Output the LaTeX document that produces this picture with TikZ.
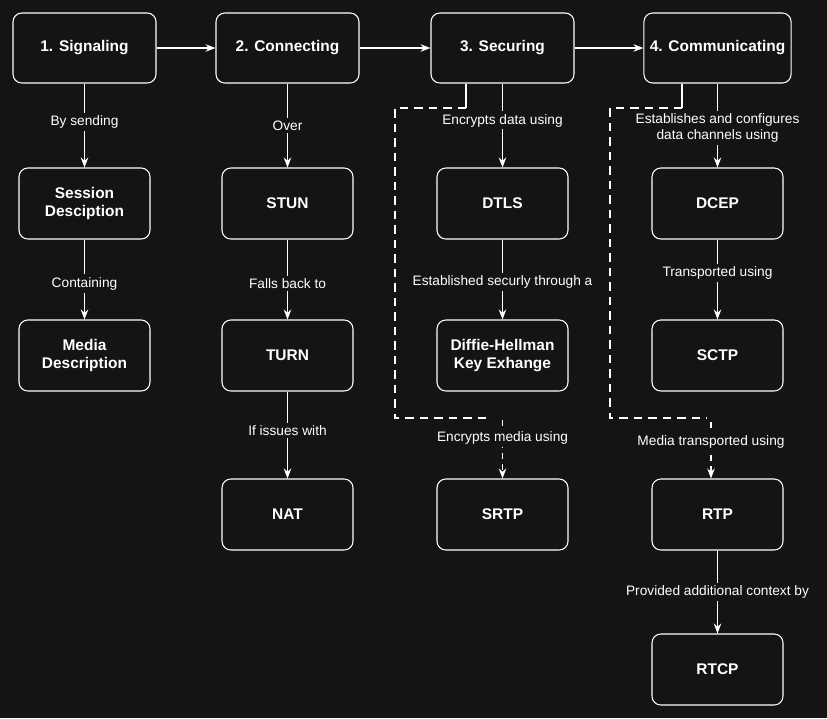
\documentclass[tikz,border=0pt]{standalone}
\usepackage{fontspec}
\setmainfont{Liberation Sans}
\usetikzlibrary{arrows.meta,positioning,calc}
\definecolor{bgdark}{HTML}{141414}
\begin{document}
\begin{tikzpicture}[x=0.02cm, y=-0.02cm,
    every node/.style={font=\fontsize{7.8}{9.2}\selectfont, text=white},
    phase/.style={draw=white, rounded corners=5pt, fill=bgdark, line width=0.6pt,
        minimum height=1.4cm, minimum width=2.86cm, align=center,
        font=\fontsize{8.8}{10.5}\selectfont\bfseries},
    item/.style={phase, minimum height=1.42cm, minimum width=2.62cm},
    lbl/.style={fill=bgdark, inner sep=1.5pt, align=center},
    arr/.style={-{Stealth[length=2mm]}, draw=white, line width=0.6pt},
    grp/.style={draw=white, dash pattern=on 1.7mm off 1.2mm, line width=0.6pt}]
    \fill[bgdark] (0,0) rectangle (827,718);
    \useasboundingbox (0,0) rectangle (827,718);
    % main phases
    \node[phase] (sig) at (84.5,48) {1. Signaling};
    \node[phase] (con) at (287.5,48) {2. Connecting};
    \node[phase] (sec) at (502.5,48) {3. Securing};
    \node[phase] (com) at (717.5,48) {4. Communicating};
    % signaling column
    \node[item] (sdp) at (84.5,203.5) {Session\\Desciption};
    \node[item] (media) at (84.5,355.5) {Media\\Description};
    % connecting column
    \node[item] (stun) at (287.5,203.5) {STUN};
    \node[item] (turn) at (287.5,355.5) {TURN};
    \node[item] (nat) at (287.5,514.5) {NAT};
    % securing column
    \node[item] (dtls) at (502.5,203.5) {DTLS};
    \node[item] (dh) at (502.5,355.5) {Diffie-Hellman\\Key Exhange};
    \node[item] (srtp) at (502.5,514.5) {SRTP};
    % communicating column
    \node[item] (dcep) at (717.5,203.5) {DCEP};
    \node[item] (sctp) at (717.5,355.5) {SCTP};
    \node[item] (rtp) at (717.5,514.5) {RTP};
    \node[item] (rtcp) at (717.5,669.5) {RTCP};
    % groups
    \coordinate (g1) at (466,108);
    \coordinate (g2) at (682,108);
    \draw[grp] (g1) -- (395,108) -- (395,418) -- (490,418);
    \draw[grp] (g2) -- (610,108) -- (610,418) -- (707,418);
    \coordinate (g1b) at (502.5,420);
    \coordinate (g2b) at (711,422);
    % connectors
    \draw[arr] (sig) -- (con);
    \draw[arr] (con) -- (sec);
    \draw[arr] (sec) -- (com);
    \draw[arr] (sig) -- node[lbl, pos=0.46] {By sending} (sdp);
    \draw[arr] (sdp) -- node[lbl, pos=0.55] {Containing} (media);
    \draw[arr] (con) -- node[lbl, pos=0.5] {Over} (stun);
    \draw[arr] (stun) -- node[lbl, pos=0.55] {Falls back to} (turn);
    \draw[arr] (turn) -- node[lbl, pos=0.45] {If issues with} (nat);
    \draw[white, line width=0.6pt] (sec.south -| g1) -- (g1);
    \draw[white, line width=0.6pt] (com.south -| g2) -- (g2);
    \draw[arr] (sec) -- node[lbl, pos=0.44] {Encrypts data using} (dtls);
    \draw[arr] (dtls) -- node[lbl, pos=0.53] {Established securly through a} (dh);
    \draw[arr, dash pattern=on 1.2mm off 1mm] (g1b) -- node[lbl, pos=0.3] {Encrypts media using} (srtp);
    \draw[arr] (com) -- node[lbl, pos=0.53] {Establishes and configures\\data channels using} (dcep);
    \draw[arr] (dcep) -- node[lbl, pos=0.42] {Transported using} (sctp);
    \draw[arr, dash pattern=on 1.2mm off 1mm] (g2b) -- node[lbl, pos=0.35] {Media transported using} (rtp.north -| g2b);
    \draw[arr] (rtp) -- node[lbl, pos=0.5] {Provided additional context by} (rtcp);
\end{tikzpicture}
\end{document}
